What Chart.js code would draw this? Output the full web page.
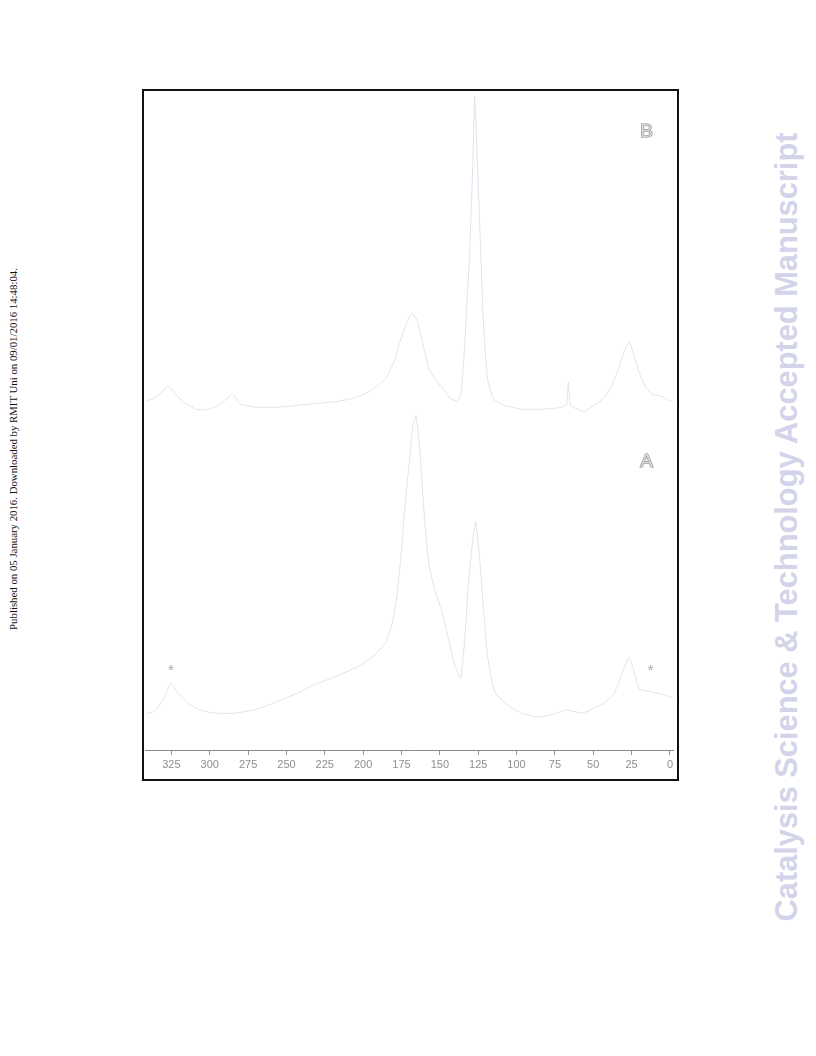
<!DOCTYPE html>
<html>
<head>
<meta charset="utf-8">
<script src="https://cdn.jsdelivr.net/npm/chart.js@4/dist/chart.umd.min.js"></script>
<style>
  html, body { margin: 0; padding: 0; background: #ffffff; }
  body { width: 816px; height: 1056px; position: relative; overflow: hidden; }
  #frame { position: absolute; left: 142px; top: 89px; width: 533px; height: 688px; border: 2px solid #111; background: #fff; }
  #wrap { position: absolute; left: 145px; top: 92px; width: 531px; height: 689px; }
  .side { position: absolute; white-space: nowrap; transform: translate(-50%, -50%) rotate(-90deg); }
  #pub { left: 13px; top: 449px; font-family: "Liberation Serif", "Times New Roman", serif; font-size: 10.8px; color: #111; }
  #journal { left: 787px; top: 527px; font-family: "Liberation Sans", Arial, sans-serif; font-weight: bold; font-size: 30.8px; color: #d3d3e9; }
</style>
</head>
<body>
<div id="frame"></div>
<div id="wrap"><canvas id="c" width="531" height="689"></canvas></div>
<div class="side" id="pub">Published on 05 January 2016. Downloaded by RMIT Uni on 09/01/2016 14:48:04.</div>
<div class="side" id="journal">Catalysis Science &amp; Technology Accepted Manuscript</div>
<script>
// chemical shift (ppm) tick labels
const tickValues = [325, 300, 275, 250, 225, 200, 175, 150, 125, 100, 75, 50, 25, 0];

// Spectrum B (upper trace): shift in ppm, intensity (arbitrary units)
const shiftB = [341.6, 335.7, 331.2, 327.3, 322.7, 317.5, 309.1, 302.6, 294.8, 288.3, 285.1, 280.5, 270.8, 255.2, 241.6, 228.6, 215.6, 205.8, 197.4, 190.9, 185.1, 179.9, 176.0, 172.1, 168.2, 164.3, 161.0, 157.1, 152.6, 147.4, 143.5, 139.0, 136.4, 134.4, 132.5, 130.5, 128.6, 127.3, 125.3, 123.4, 121.4, 118.8, 114.9, 108.4, 96.8, 82.5, 72.7, 67.5, 66.2, 64.9, 55.8, 49.4, 42.9, 37.7, 33.8, 29.9, 26.6, 23.4, 20.1, 15.6, 11.0, 5.8, 1.3, -1.9];
const intensB = [53.0, 53.5, 54.4, 55.3, 54.3, 52.9, 51.8, 51.7, 52.3, 53.5, 54.1, 52.6, 52.1, 52.1, 52.4, 52.7, 53.0, 53.5, 54.3, 55.3, 56.5, 59.0, 62.0, 64.6, 66.4, 65.0, 61.6, 57.9, 56.2, 54.7, 53.5, 53.0, 53.9, 59.3, 66.9, 76.0, 88.1, 99.4, 88.1, 76.0, 63.8, 56.2, 53.3, 52.4, 51.8, 51.8, 52.0, 52.4, 55.9, 52.4, 51.4, 52.4, 53.5, 55.5, 57.8, 60.5, 62.0, 60.0, 57.4, 55.0, 54.0, 53.8, 53.2, 52.9];

// Spectrum A (lower trace)
const shiftA = [341.6, 335.7, 330.5, 325.3, 320.8, 314.3, 306.5, 296.8, 283.8, 270.8, 255.2, 241.6, 232.5, 220.8, 209.7, 201.3, 191.6, 185.1, 181.2, 177.9, 175.3, 172.7, 170.1, 167.5, 165.6, 163.6, 161.7, 159.7, 157.1, 153.2, 148.7, 144.2, 140.3, 136.4, 133.8, 131.2, 128.6, 126.6, 124.0, 121.4, 118.8, 114.3, 105.2, 96.8, 85.7, 75.3, 67.5, 56.5, 49.4, 42.9, 37.0, 33.8, 29.9, 26.6, 23.4, 20.1, 15.6, 11.0, 5.8, 1.3, -1.9];
const intensA = [5.5, 5.9, 7.6, 10.2, 8.7, 7.1, 6.1, 5.6, 5.6, 6.1, 7.4, 8.8, 9.9, 10.9, 12.0, 12.9, 14.6, 16.4, 19.0, 23.6, 29.6, 37.2, 43.3, 49.4, 50.8, 47.1, 41.0, 34.2, 28.1, 24.3, 21.0, 16.7, 12.9, 10.9, 16.7, 25.8, 31.9, 34.7, 28.9, 21.0, 14.1, 8.8, 6.7, 5.6, 5.0, 5.5, 6.1, 5.6, 6.4, 7.1, 8.4, 9.9, 12.5, 14.1, 11.9, 9.3, 9.0, 8.8, 8.5, 8.2, 7.9];

// text annotations: trace labels and spinning-sideband asterisks
const noteText = ['B', 'A', '*', '*'];
const noteShift = [15.3, 15.3, 325.3, 12.5];
const noteIntens = [94.0, 43.8, 12.5, 12.5];

const toPts = (xs, ys) => xs.map((x, i) => ({ x: x, y: ys[i] }));

const notesPlugin = {
  id: 'notes',
  afterDatasetsDraw(chart) {
    const { ctx, scales } = chart;
    ctx.save();
    ctx.textAlign = 'center';
    ctx.textBaseline = 'middle';
    noteText.forEach((t, i) => {
      const px = scales.x.getPixelForValue(noteShift[i]);
      const py = scales.y.getPixelForValue(noteIntens[i]);
      if (t === '*') {
        ctx.font = '15px "Liberation Sans", Arial, sans-serif';
        ctx.fillStyle = '#a8a8a8';
        ctx.fillText(t, px, py + 3);
      } else {
        ctx.font = '19px "Liberation Sans", Arial, sans-serif';
        ctx.strokeStyle = '#8c8c8c';
        ctx.lineWidth = 1.2;
        ctx.strokeText(t, px, py);
        ctx.fillStyle = '#d8d8d8';
        ctx.fillText(t, px, py);
      }
    });
    ctx.restore();
  }
};

new Chart(document.getElementById('c'), {
  type: 'line',
  data: {
    datasets: [
      { label: 'B', data: toPts(shiftB, intensB), borderColor: '#dce4ee', borderWidth: 1, pointRadius: 0, tension: 0.12, fill: false },
      { label: 'A', data: toPts(shiftA, intensA), borderColor: '#dce4ee', borderWidth: 1, pointRadius: 0, tension: 0.12, fill: false }
    ]
  },
  options: {
    responsive: false,
    animation: false,
    events: [],
    layout: { padding: 0 },
    plugins: { legend: { display: false }, tooltip: { enabled: false } },
    scales: {
      x: {
        type: 'linear',
        reverse: true,
        min: -2.6,
        max: 342.2,
        afterBuildTicks: (scale) => { scale.ticks = tickValues.map(v => ({ value: v })); },
        afterFit: (scale) => { scale.height = 31; },
        grid: { display: true, drawOnChartArea: false, drawTicks: true, tickLength: 5, color: '#7f9a9a' },
        border: { display: true, color: '#8a8a8a', width: 1 },
        ticks: { color: '#8e8e8e', font: { family: '"Liberation Sans", Arial, sans-serif', size: 11 }, padding: 3, maxRotation: 0, autoSkip: false }
      },
      y: {
        display: false,
        min: 0,
        max: 100
      }
    }
  },
  plugins: [notesPlugin]
});
</script>
</body>
</html>
